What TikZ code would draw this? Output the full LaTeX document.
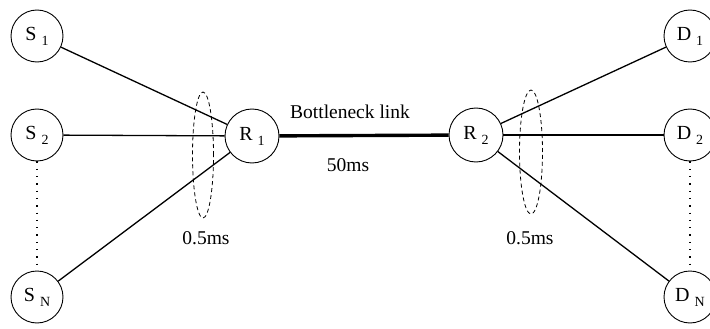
\documentclass[tikz,border=0pt]{standalone}
\usepackage{fontspec}
\usetikzlibrary{shapes.geometric}
\setmainfont{Liberation Serif}
\newcommand\hostlbl[2]{#1\hspace{5pt}\raisebox{-5pt}{\fontsize{14}{14}\selectfont #2}}
\begin{document}
\begin{tikzpicture}[x=1pt,y=-1pt,
  host/.style={circle,draw,line width=0.9pt,minimum size=52pt,inner sep=0pt,
    font=\fontsize{20}{22}\selectfont},
  link/.style={line width=1.3pt},
  bneck/.style={line width=3.4pt},
  fan/.style={draw,dashed,dash pattern=on 4pt off 3pt,line width=0.8pt},
  gap/.style={line width=1.3pt,dash pattern=on 1.3pt off 6pt},
  lbl/.style={font=\fontsize{19.5}{22}\selectfont,inner sep=0pt}]
\useasboundingbox (0,0) rectangle (710,329);

% senders
\node[host] (s1) at (37,36) {\hostlbl{S}{1}};
\node[host] (s2) at (37,135) {\hostlbl{S}{2}};
\node[host] (sn) at (37,297) {\hostlbl{S}{N}};
% routers
\node[host,minimum size=54pt] (r1) at (252,136) {\hostlbl{R}{1}};
\node[host,minimum size=54pt] (r2) at (476,135) {\hostlbl{R}{2}};
% receivers
\node[host] (d1) at (690,36) {\hostlbl{D}{1}};
\node[host] (d2) at (690,135) {\hostlbl{D}{2}};
\node[host] (dn) at (690,297) {\hostlbl{D}{N}};

% access links
\draw[link] (s1) -- (r1);
\draw[link] (s2) -- (r1);
\draw[link] (sn) -- (r1);
\draw[link] (r2) -- (d1);
\draw[link] (r2) -- (d2);
\draw[link] (r2) -- (dn);

% bottleneck
\draw[bneck] (r1) -- (r2);
\node[lbl] (bl) at (350,112) {Bottleneck link};
\node[lbl] (bd) at (348,165) {50ms};

% delay markers on the access links
\node[fan,ellipse,minimum width=21pt,minimum height=126pt,inner sep=0pt] (e1) at (203,155) {};
\node[fan,ellipse,minimum width=23pt,minimum height=124pt,inner sep=0pt] (e2) at (531,152) {};
\node[lbl] (t1) at (206,238) {0.5ms};
\node[lbl] (t2) at (530,238) {0.5ms};

% omitted hosts
\draw[gap] (s2) -- (sn);
\draw[gap] (d2) -- (dn);
\end{tikzpicture}
\end{document}
